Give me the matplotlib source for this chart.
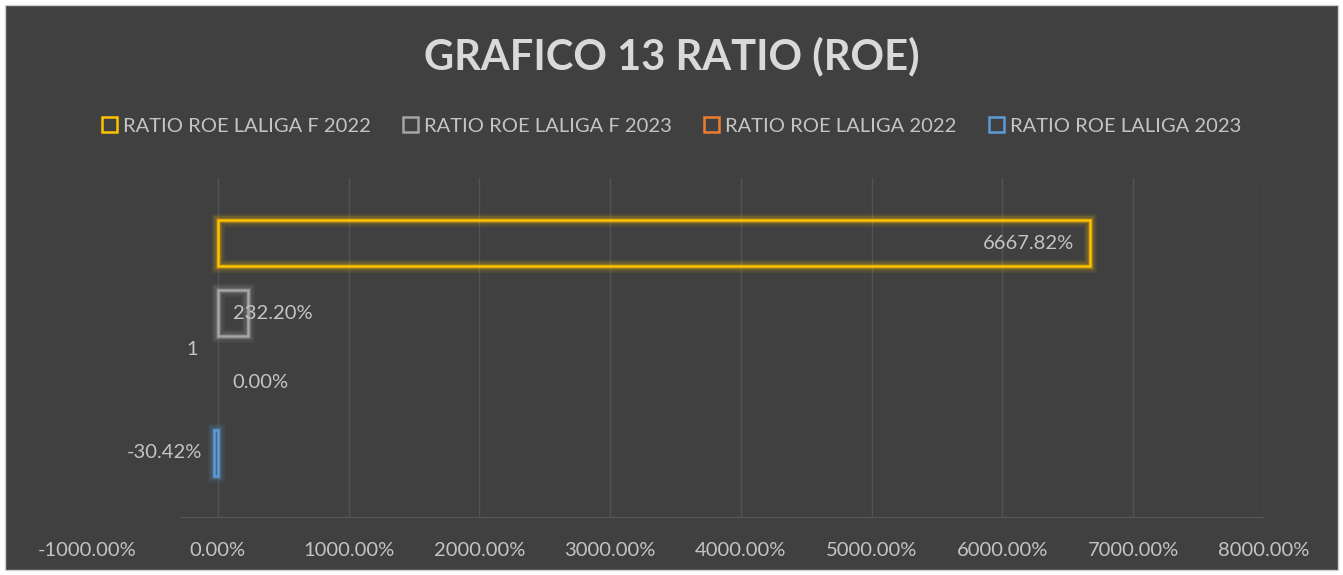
import numpy as np
import matplotlib
matplotlib.use("Agg")
import matplotlib.pyplot as plt
from matplotlib.patches import Patch, Rectangle

# datos del grafico (ROE en %)
series = ["RATIO ROE LALIGA F 2022", "RATIO ROE LALIGA F 2023",
          "RATIO ROE LALIGA 2022", "RATIO ROE LALIGA 2023"]
valores = [6667.82, 232.20, 0.00, -30.42]
colores = ["#FFC000", "#A5A5A5", "#ED7D31", "#5B9BD5"]
etiquetas = ["6667.82%", "232.20%", "0.00%", "-30.42%"]
ticks_x = [-1000, 0, 1000, 2000, 3000, 4000, 5000, 6000, 7000, 8000]
categoria = "1"

fondo = "#404040"
titulo_color = "#D9D9D9"
texto = "#C4C4C4"
plt.rcParams['font.family'] = ['Lato', 'DejaVu Sans']

fig = plt.figure(figsize=(13.43, 5.75), dpi=100, facecolor="white")
W, H = 1343, 575
fig.patches.append(Rectangle((5 / W, 5 / H), 1 - 10 / W, 1 - 10 / H, transform=fig.transFigure,
                             facecolor=fondo, edgecolor="#D0D0D0", linewidth=1.0, zorder=-5))

ax = fig.add_axes([87 / W, 1 - 518 / H, (1264 - 87) / W, (518 - 178) / H])
ax.set_facecolor("none")
ax.set_zorder(2)

pos = np.arange(len(valores))
alto = 0.67
for i, (v, c) in enumerate(zip(valores, colores)):
    if v == 0:
        continue  # una barra de ancho cero no se dibuja
    # brillo alrededor de la barra
    for lw, a in [(9, 0.10), (6, 0.15), (3.5, 0.25)]:
        ax.barh(pos[i], v, height=alto, left=0, facecolor="none", edgecolor=c,
                linewidth=lw, alpha=a, zorder=2)
    ax.barh(pos[i], v, height=alto, left=0, facecolor="none", edgecolor=c,
            linewidth=1.8, zorder=3)

# etiquetas de datos
fs = 14.5
ax.annotate(etiquetas[0], (valores[0], pos[0]), xytext=(-16, 0), textcoords="offset pixels",
            ha="right", va="center", color=texto, fontsize=fs)
for i in (1, 2):
    ax.annotate(etiquetas[i], (0, pos[i]), xytext=(15, 0), textcoords="offset pixels",
                ha="left", va="center", color=texto, fontsize=fs)
ax.annotate(etiquetas[3], (valores[3], pos[3]), xytext=(-12, 0), textcoords="offset pixels",
            ha="right", va="center", color=texto, fontsize=fs)

ax.set_xlim(ticks_x[0], ticks_x[-1])
ax.set_ylim(3.93, -0.93)
ax.set_xticks(ticks_x)
ax.set_xticklabels([f"{t:.2f}%" for t in ticks_x])
ax.set_yticks([1.5])
ax.set_yticklabels([categoria])
ax.tick_params(axis="both", length=0, colors=texto, labelsize=fs)
ax.tick_params(axis="x", pad=17)
ax.tick_params(axis="y", pad=-80)
for s in ax.spines.values():
    s.set_visible(False)
ax.grid(axis="x", color="#535353", linewidth=1.0)
ax.xaxis.get_gridlines()[0].set_visible(False)
ax.set_axisbelow(True)
ax.axhline(3.93, color="#5C5C5C", linewidth=1.2, xmin=0.08)

fig.text(0.5, 1 - 56 / H, "GRAFICO 13 RATIO (ROE)", ha="center", va="center",
         color=titulo_color, fontsize=30, fontweight="bold")

handles = [Patch(facecolor="none", edgecolor=c, linewidth=1.8) for c in colores]
fig.legend(handles, series, loc="center", bbox_to_anchor=(0.5, 1 - 126 / H), ncol=4,
           frameon=False, fontsize=fs, labelcolor=texto, handlelength=0.75, handleheight=0.75,
           handletextpad=0.3, columnspacing=1.6)

fig.savefig("out.png", dpi=100, facecolor="white")
